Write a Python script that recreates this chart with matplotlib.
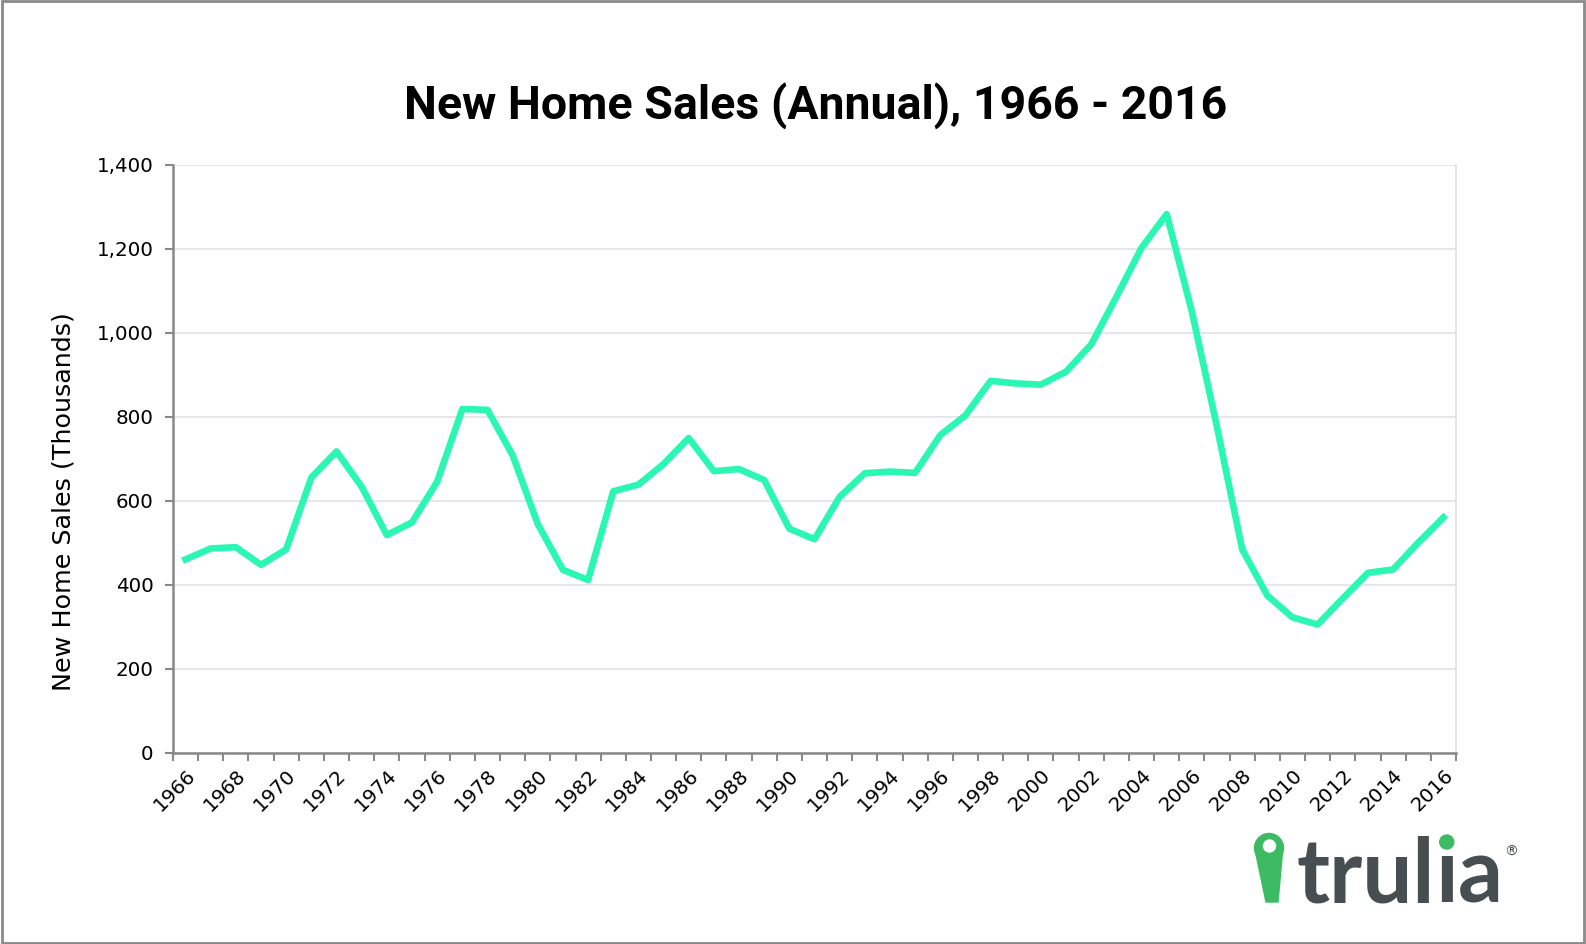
import numpy as np
import matplotlib
matplotlib.use("Agg")
import matplotlib.pyplot as plt
from matplotlib.patches import Circle, Polygon, Rectangle
from matplotlib.ticker import FuncFormatter, MultipleLocator

# Annual new home sales, thousands
years = list(range(1966, 2017))
sales = [461, 487, 490, 448, 485, 656, 718, 634, 519, 549,
         646, 819, 817, 709, 545, 436, 412, 623, 639, 688,
         750, 671, 676, 650, 534, 509, 610, 666, 670, 667,
         757, 804, 886, 880, 877, 908, 973, 1086, 1203, 1283,
         1051, 776, 485, 375, 323, 306, 368, 429, 437, 501, 561]

W, H = 1586, 944
fig = plt.figure(figsize=(W / 100, H / 100), dpi=100)

# plot area
ax = fig.add_axes([173 / W, 1 - 753 / H, (1456 - 173) / W, (753 - 165) / H])
x = np.arange(len(years))
ax.plot(x, sales, color="#2BF7B4", lw=4.8, solid_joinstyle="round", zorder=3)

ax.set_xlim(-0.5, len(years) - 0.5)
ax.set_ylim(0, 1400)
ax.yaxis.set_major_locator(MultipleLocator(200))
ax.yaxis.set_major_formatter(FuncFormatter(lambda v, p: f"{int(v):,}"))
ax.grid(axis="y", color="#e3e3e3", lw=1.2)
ax.set_axisbelow(True)

ax.set_xticks(x[::2])
ax.set_xticklabels([str(y) for y in years[::2]], rotation=45, ha="right",
                   rotation_mode="anchor", fontsize=14.3)
ax.set_xticks(np.arange(-0.5, len(years)), minor=True)
ax.tick_params(axis="x", which="major", length=0, pad=9)
ax.tick_params(axis="x", which="minor", length=6, width=1.5, color="#888888")
ax.tick_params(axis="y", length=6, width=1.5, color="#888888", labelsize=14.3, pad=8)

for s in ["left", "bottom"]:
    ax.spines[s].set_color("#888888")
    ax.spines[s].set_linewidth(1.8)
ax.spines["top"].set_visible(False)
ax.spines["right"].set_color("#e0e0e0")
ax.spines["right"].set_linewidth(1.2)

fig.text(63 / W, 1 - 502 / H, "New Home Sales (Thousands)", rotation=90,
         ha="center", va="center", fontsize=18.3)

fig.text(816 / W, 1 - 106 / H, "New Home Sales (Annual), 1966 - 2016",
         ha="center", va="center", fontsize=33.5, fontweight="bold",
         family="Roboto")

# figure border
fig.patches.append(Rectangle((0.001, 0.001), 0.998, 0.998, transform=fig.transFigure,
                             fill=False, ec="#8a8a8a", lw=2))

# trulia logo
lg = fig.add_axes([1240 / W, 1 - 915 / H, 280 / W, 95 / H])
lg.set_xlim(1240, 1520)
lg.set_ylim(915, 820)
lg.axis("off")
green = "#3DBB63"
grey = "#474E51"
lg.add_patch(Circle((1269, 848), 14.5, color=green))
lg.add_patch(Polygon([(1255.5, 852), (1282.5, 852), (1278, 902), (1266, 902)], color=green))
lg.add_patch(Circle((1269.5, 846), 6, color="white"))

fig.canvas.draw()
r = fig.canvas.get_renderer()
inv = lg.transData.inverted()
xpos = 1297
parts = []
for s in ["trul", "\u0131", "a"]:
    t = lg.text(xpos, 902, s, fontsize=64, fontweight="bold", family="Lato",
                color=grey, va="baseline", ha="left")
    bb = t.get_window_extent(r)
    x0 = inv.transform((bb.x0, bb.y0))[0]
    x1 = inv.transform((bb.x1, bb.y0))[0]
    parts.append((x0, x1))
    xpos = x1
ix0, ix1 = parts[1]
lg.add_patch(Circle(((ix0 + ix1) / 2, 842), 7, color=green))
lg.text(parts[2][1] + 0.5, 852, "\u00ae", fontsize=10, color=grey, va="center", ha="left")

fig.savefig("out.png", dpi=100)
